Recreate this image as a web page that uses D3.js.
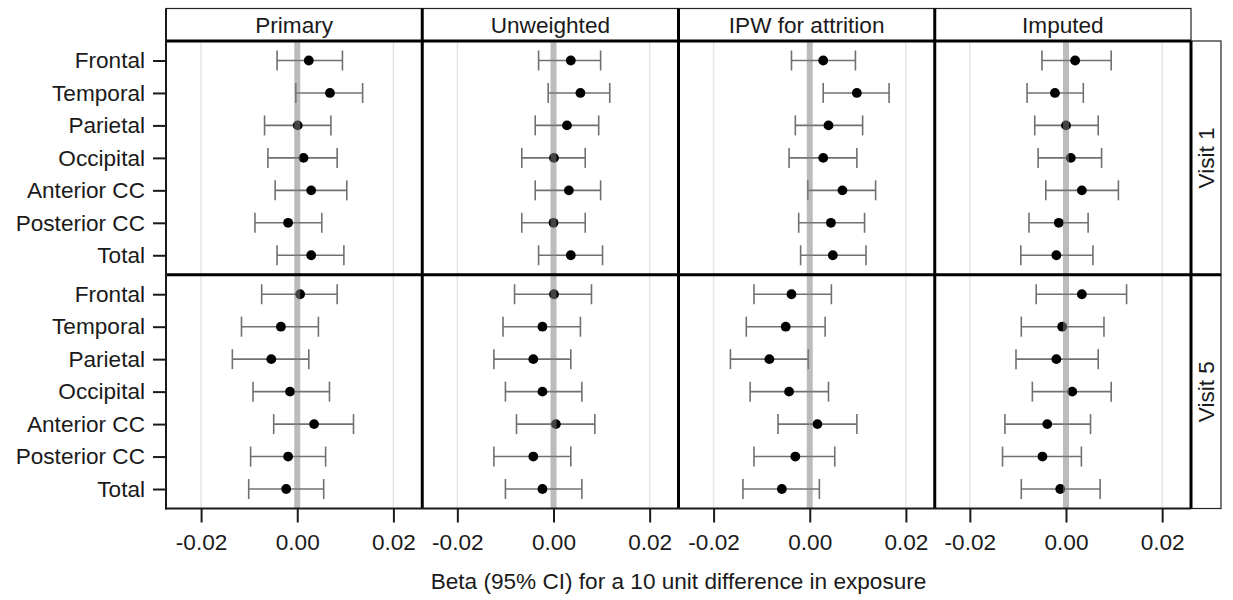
<!DOCTYPE html>
<html>
<head>
<meta charset="utf-8">
<script src="https://cdn.jsdelivr.net/npm/d3@7/dist/d3.min.js"></script>
<style>
  html, body { margin: 0; padding: 0; background: #fff; }
  svg { display: block; }
  text { font-family: "Liberation Sans", Arial, sans-serif; fill: #1a1a1a; }
</style>
</head>
<body>
<svg id="chart" width="1233" height="600"></svg>
<script>
// ---------- DATA ----------
const categories = ["Frontal", "Temporal", "Parietal", "Occipital", "Anterior CC", "Posterior CC", "Total"];
const models = ["Primary", "Unweighted", "IPW for attrition", "Imputed"];
const visits = ["Visit 1", "Visit 5"];
const xTicks = [-0.02, 0.00, 0.02];
const xTickLabels = ["-0.02", "0.00", "0.02"];
const xTitle = "Beta (95% CI) for a 10 unit difference in exposure";

// each array: 7 values for Visit 1 followed by 7 values for Visit 5
const primaryEst = [0.0024, 0.0068, 0.0001, 0.0013, 0.0029, -0.0019, 0.0029,
                    0.0006, -0.0034, -0.0054, -0.0015, 0.0035, -0.0019, -0.0023];
const primaryLo  = [-0.0042, -0.0003, -0.0068, -0.0061, -0.0046, -0.0088, -0.0042,
                    -0.0074, -0.0116, -0.0135, -0.0092, -0.0049, -0.0097, -0.0101];
const primaryHi  = [0.0094, 0.0136, 0.0070, 0.0083, 0.0103, 0.0051, 0.0097,
                    0.0083, 0.0044, 0.0024, 0.0067, 0.0117, 0.0059, 0.0055];

const unweightedEst = [0.0036, 0.0056, 0.0028, 0.0001, 0.0032, 0.0000, 0.0036,
                       0.0001, -0.0023, -0.0042, -0.0023, 0.0005, -0.0042, -0.0023];
const unweightedLo  = [-0.0031, -0.0011, -0.0038, -0.0066, -0.0038, -0.0066, -0.0031,
                       -0.0081, -0.0105, -0.0124, -0.0100, -0.0077, -0.0124, -0.0100];
const unweightedHi  = [0.0098, 0.0117, 0.0094, 0.0066, 0.0098, 0.0066, 0.0102,
                       0.0079, 0.0056, 0.0036, 0.0059, 0.0086, 0.0036, 0.0059];

const ipwEst = [0.0028, 0.0098, 0.0039, 0.0028, 0.0068, 0.0044, 0.0048,
                -0.0038, -0.0050, -0.0084, -0.0043, 0.0016, -0.0030, -0.0058];
const ipwLo  = [-0.0038, 0.0028, -0.0030, -0.0043, -0.0004, -0.0023, -0.0019,
                -0.0116, -0.0132, -0.0165, -0.0124, -0.0066, -0.0116, -0.0139];
const ipwHi  = [0.0095, 0.0165, 0.0110, 0.0098, 0.0137, 0.0114, 0.0117,
                0.0045, 0.0032, -0.0003, 0.0039, 0.0098, 0.0052, 0.0020];

const imputedEst = [0.0019, -0.0023, 0.0000, 0.0010, 0.0033, -0.0015, -0.0020,
                    0.0033, -0.0008, -0.0020, 0.0013, -0.0039, -0.0049, -0.0012];
const imputedLo  = [-0.0050, -0.0081, -0.0065, -0.0058, -0.0042, -0.0077, -0.0094,
                    -0.0062, -0.0093, -0.0104, -0.0070, -0.0127, -0.0132, -0.0093];
const imputedHi  = [0.0094, 0.0036, 0.0067, 0.0074, 0.0109, 0.0046, 0.0056,
                    0.0126, 0.0079, 0.0067, 0.0094, 0.0051, 0.0032, 0.0071];

const modelData = [
  {est: primaryEst, lo: primaryLo, hi: primaryHi},
  {est: unweightedEst, lo: unweightedLo, hi: unweightedHi},
  {est: ipwEst, lo: ipwLo, hi: ipwHi},
  {est: imputedEst, lo: imputedLo, hi: imputedHi}
];

// ---------- LAYOUT ----------
const svg = d3.select("#chart");
const L = { left: 166, right: 1191, headTop: 8.5, plotTop: 41, bottom: 508.5, stripRight: 1221 };
const rowH = (L.bottom - L.plotTop) / visits.length;
const panelW = (L.right - L.left) / models.length;
const xDomain = [-0.0273, 0.026];
const FS = 22.6;

svg.append("rect").attr("width", 1233).attr("height", 600).attr("fill", "#fff");

const rowScale = d3.scaleBand().domain(visits).range([L.plotTop, L.bottom]);
const colScale = d3.scaleBand().domain(models).range([L.left, L.right]);

models.forEach((m, mi) => {
  const x0 = colScale(m);
  const x = d3.scaleLinear().domain(xDomain).range([x0, x0 + panelW]);
  visits.forEach((v, vi) => {
    const y0 = rowScale(v);
    const y = d3.scalePoint().domain(categories).range([y0, y0 + rowH]).padding(0.6);
    const g = svg.append("g");
    g.selectAll("line.grid").data([xTicks[0], xTicks[2]]).enter().append("line")
      .attr("x1", d => x(d)).attr("x2", d => x(d))
      .attr("y1", y0).attr("y2", y0 + rowH)
      .attr("stroke", "#e6e6e6").attr("stroke-width", 1.5);
    const rows = categories.map((c, ci) => {
      const k = vi * categories.length + ci;
      return {c, est: modelData[mi].est[k], lo: modelData[mi].lo[k], hi: modelData[mi].hi[k]};
    });
    const eb = g.selectAll("g.eb").data(rows).enter().append("g")
      .attr("stroke", "#707070").attr("stroke-width", 1.6).attr("fill", "none");
    eb.append("line").attr("x1", d => x(d.lo)).attr("x2", d => x(d.hi))
      .attr("y1", d => y(d.c)).attr("y2", d => y(d.c));
    eb.append("line").attr("x1", d => x(d.lo)).attr("x2", d => x(d.lo))
      .attr("y1", d => y(d.c) - 10).attr("y2", d => y(d.c) + 10);
    eb.append("line").attr("x1", d => x(d.hi)).attr("x2", d => x(d.hi))
      .attr("y1", d => y(d.c) - 10).attr("y2", d => y(d.c) + 10);
    g.selectAll("circle").data(rows).enter().append("circle")
      .attr("cx", d => x(d.est)).attr("cy", d => y(d.c)).attr("r", 4.9)
      .attr("fill", "#000");
    g.append("line").attr("x1", x(0)).attr("x2", x(0))
      .attr("y1", y0).attr("y2", y0 + rowH)
      .attr("stroke", "#808080").attr("stroke-opacity", 0.53).attr("stroke-width", 6);

    if (mi === 0) {
      const ay = svg.append("g").attr("transform", `translate(${L.left},0)`)
        .call(d3.axisLeft(y).tickSize(13).tickPadding(8));
      ay.select(".domain").remove();
      ay.selectAll(".tick line").attr("stroke", "#1a1a1a").attr("stroke-width", 2);
      ay.selectAll(".tick text").attr("font-size", FS).attr("fill", "#1a1a1a")
        .attr("font-family", "Liberation Sans, Arial, sans-serif");
    }
    if (vi === visits.length - 1) {
      const ax = svg.append("g").attr("transform", `translate(0,${L.bottom})`)
        .call(d3.axisBottom(x).tickValues(xTicks).tickFormat((d, i) => xTickLabels[i])
              .tickSize(14).tickPadding(11));
      ax.select(".domain").remove();
      ax.selectAll(".tick line").attr("stroke", "#1a1a1a").attr("stroke-width", 2);
      ax.selectAll(".tick text").attr("font-size", FS).attr("fill", "#1a1a1a")
        .attr("font-family", "Liberation Sans, Arial, sans-serif");
    }
  });
  svg.append("rect").attr("x", x0).attr("y", L.headTop).attr("width", panelW).attr("height", L.plotTop - L.headTop)
    .attr("fill", "#fff").attr("stroke", "#222").attr("stroke-width", 1.2);
  svg.append("text").attr("x", x0 + panelW / 2).attr("y", 32.5)
    .attr("text-anchor", "middle").attr("font-size", FS).text(m);
});

visits.forEach(v => {
  const y0 = rowScale(v);
  svg.append("rect").attr("x", L.right).attr("y", y0).attr("width", L.stripRight - L.right).attr("height", rowH)
    .attr("fill", "#fff").attr("stroke", "#222").attr("stroke-width", 1.2);
  const cx = (L.right + L.stripRight) / 2, cy = y0 + rowH / 2;
  svg.append("text").attr("transform", `translate(${cx},${cy}) rotate(-90)`)
    .attr("text-anchor", "middle").attr("dy", "0.36em").attr("font-size", FS).text(v);
});

const frame = svg.append("g").attr("stroke", "#000").attr("fill", "none");
models.slice(1).forEach(m => {
  frame.append("line").attr("x1", colScale(m)).attr("x2", colScale(m))
    .attr("y1", L.headTop).attr("y2", L.bottom).attr("stroke-width", 3);
});
visits.slice(1).forEach(v => {
  frame.append("line").attr("x1", L.left).attr("x2", L.stripRight)
    .attr("y1", rowScale(v)).attr("y2", rowScale(v)).attr("stroke-width", 3);
});
frame.append("line").attr("x1", L.left).attr("x2", L.right).attr("y1", L.plotTop).attr("y2", L.plotTop).attr("stroke-width", 3);
frame.append("line").attr("x1", L.right).attr("x2", L.right).attr("y1", L.plotTop).attr("y2", L.bottom).attr("stroke-width", 3);
frame.append("line").attr("x1", L.left).attr("x2", L.left).attr("y1", L.headTop).attr("y2", L.bottom + 1).attr("stroke-width", 2).attr("stroke", "#1a1a1a");
frame.append("line").attr("x1", L.left - 1).attr("x2", L.right).attr("y1", L.bottom).attr("y2", L.bottom).attr("stroke-width", 2).attr("stroke", "#1a1a1a");

svg.append("text").attr("x", (L.left + L.right) / 2).attr("y", 589)
  .attr("text-anchor", "middle").attr("font-size", FS).text(xTitle);
</script>
</body>
</html>
